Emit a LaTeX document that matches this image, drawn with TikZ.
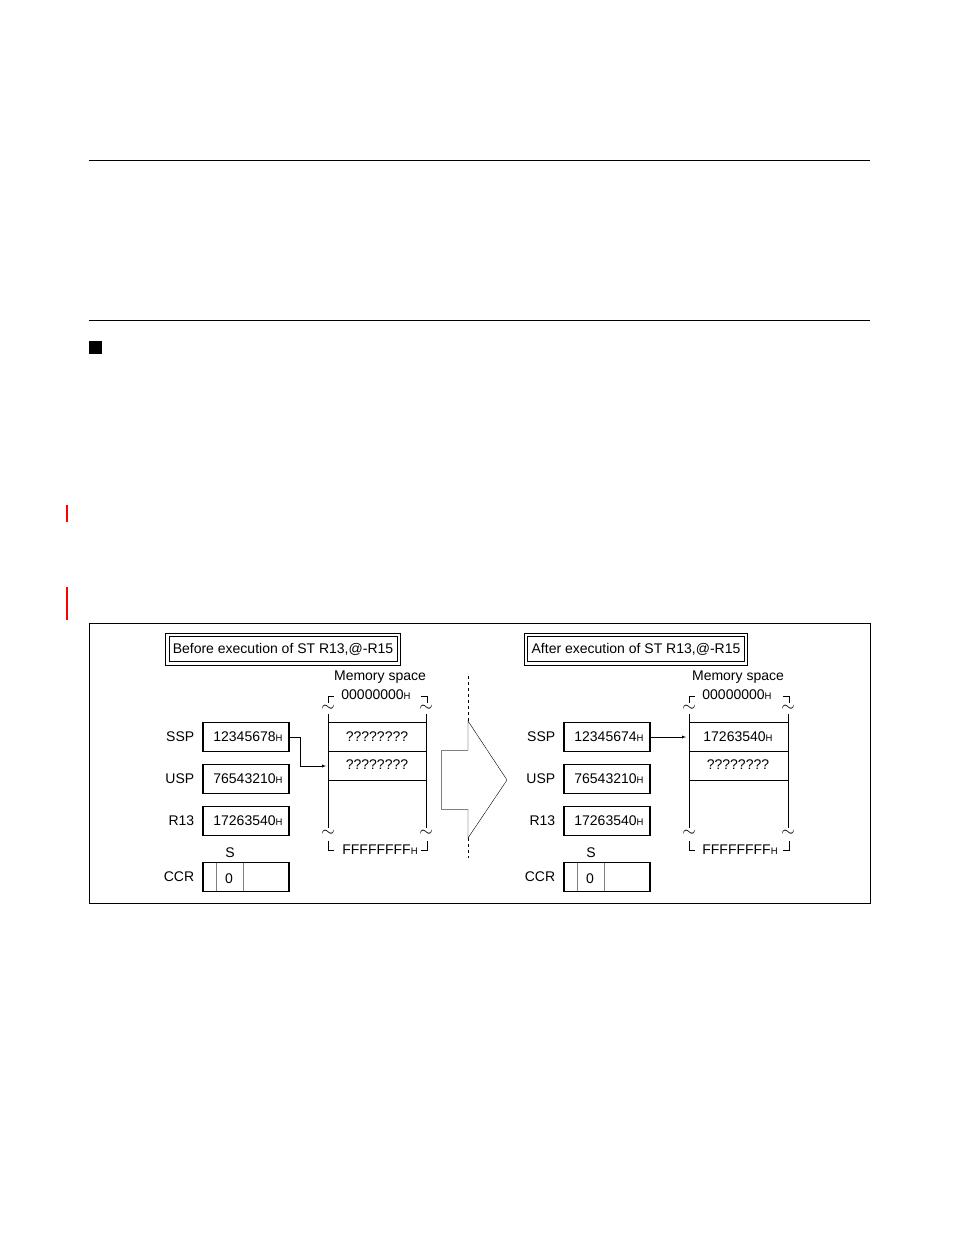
\documentclass[tikz,border=0pt]{standalone}
\usepackage{fontspec}
\setmainfont{Liberation Sans}
\usetikzlibrary{positioning}
\tikzset{
	reg/.style={draw,very thick,minimum width=86pt,minimum height=29pt,inner sep=0pt},
	lbl/.style={inner sep=0pt},
	title/.style={draw,inner sep=4pt,minimum height=25pt},
	cell/.style={minimum width=98pt,minimum height=29pt,inner sep=0pt},
	wave/.style={inner sep=0pt,font=\fontsize{16}{16}\selectfont}
}
\newcommand{\hx}{{\fontsize{9.5}{9.5}\selectfont H}}
\newcommand{\wv}{$\sim$}
\begin{document}
\begin{tikzpicture}[x=1pt,y=-1pt,font=\fontsize{14}{16}\selectfont]
		\useasboundingbox (0,0) rectangle (954,1235);
		\draw[thin][black](89,160)--(870,160);
		\draw[thin][black](89,320)--(870,320);
		\fill[black](89,341) rectangle (102,354);
		\draw[red,line width=1.3pt](67,505)--(67,522);
		\draw[red,line width=1.3pt](67,587)--(67,620);
		\draw[thin][black](89,623) rectangle (870,903);
		
		% before
		\node[title] (t1) at (283,649) {Before execution of ST R13,@-R15};
		\draw(t1.south west)++(-3,3) rectangle ([shift={(3,-3)}]t1.north east);
		\node[lbl] (m1) at (380,677) {Memory space};
		\node[lbl] (a1) at (376,695) {00000000\hx};
		\draw(328,703)--(328,696)--(334,696);
		\draw(427,703)--(427,696)--(421,696);
		\node[wave] at (328,708) {\wv};
		\node[wave] at (426,708) {\wv};
		\draw(328,714)--(328,828);
		\draw(426,714)--(426,828);
		\node[cell] (c1a) at (377,737) {????????};
		\node[cell] (c1b) at (377,765) {????????};
		\draw(328,722)--(426,722);
		\draw(328,751)--(426,751);
		\draw(328,780)--(426,780);
		\node[wave] at (328,833) {\wv};
		\node[wave] at (426,833) {\wv};
		\node[lbl] (f1) at (380,850) {FFFFFFFF\hx};
		\draw(328,841)--(328,850)--(334,850);
		\draw(427,841)--(427,850)--(421,850);
		
		\node[reg] (ssp1) at (246,737) {\ 12345678\hx};
		\node[reg] (usp1) at (246,779) {\ 76543210\hx};
		\node[reg] (r131) at (246,821) {\ 17263540\hx};
		\node[reg] (ccr1) at (246,877) {};
		\draw[gray](216,863)--(216,891);
		\draw[gray](243,863)--(243,891);
		\node[lbl] at (229,879) {0};
		\node[lbl] at (230,853) {S};
		\node[lbl,left=8pt of ssp1] {SSP};
		\node[lbl,left=8pt of usp1] {USP};
		\node[lbl,left=8pt of r131] {R13};
		\node[lbl,left=8pt of ccr1] {CCR};
		\coordinate (p1) at (326,766);
		\draw[-latex](ssp1.east)-|(300,766)--(p1);
		
		% arrow
		\draw[dashed,thin](468,676)--(468,858);
		\draw[thin,fill=white](468,750)--(468,721)--(507,780)--(468,838)--(468,809);
		\draw[thin,gray](468,750)--(441,750)--(441,809)--(468,809);
		
		% after
		\node[title] (t2) at (636,649) {After execution of ST R13,@-R15};
		\draw(t2.south west)++(-3,3) rectangle ([shift={(3,-3)}]t2.north east);
		\node[lbl] (m2) at (738,677) {Memory space};
		\node[lbl] (a2) at (737,695) {00000000\hx};
		\draw(689,703)--(689,696)--(695,696);
		\draw(789,703)--(789,696)--(783,696);
		\node[wave] at (689,708) {\wv};
		\node[wave] at (788,708) {\wv};
		\draw[thick](689,714)--(689,828);
		\draw(788,714)--(788,828);
		\node[cell] (c2a) at (738,737) {17263540\hx};
		\node[cell] (c2b) at (738,765) {????????};
		\draw(689,722)--(788,722);
		\draw(689,751)--(788,751);
		\draw(689,780)--(788,780);
		\node[wave] at (689,833) {\wv};
		\node[wave] at (788,833) {\wv};
		\node[lbl] (f2) at (740,850) {FFFFFFFF\hx};
		\draw(689,841)--(689,850)--(695,850);
		\draw(789,841)--(789,850)--(783,850);
		
		\node[reg] (ssp2) at (607,737) {\ 12345674\hx};
		\node[reg] (usp2) at (607,779) {\ 76543210\hx};
		\node[reg] (r132) at (607,821) {\ 17263540\hx};
		\node[reg] (ccr2) at (607,877) {};
		\draw[gray](577,863)--(577,891);
		\draw[gray](604,863)--(604,891);
		\node[lbl] at (590,879) {0};
		\node[lbl] at (591,853) {S};
		\node[lbl,left=8pt of ssp2] {SSP};
		\node[lbl,left=8pt of usp2] {USP};
		\node[lbl,left=8pt of r132] {R13};
		\node[lbl,left=8pt of ccr2] {CCR};
		\coordinate (p2) at (686,737);
		\draw[-latex](ssp2.east)--(p2);
\end{tikzpicture}
\end{document}
